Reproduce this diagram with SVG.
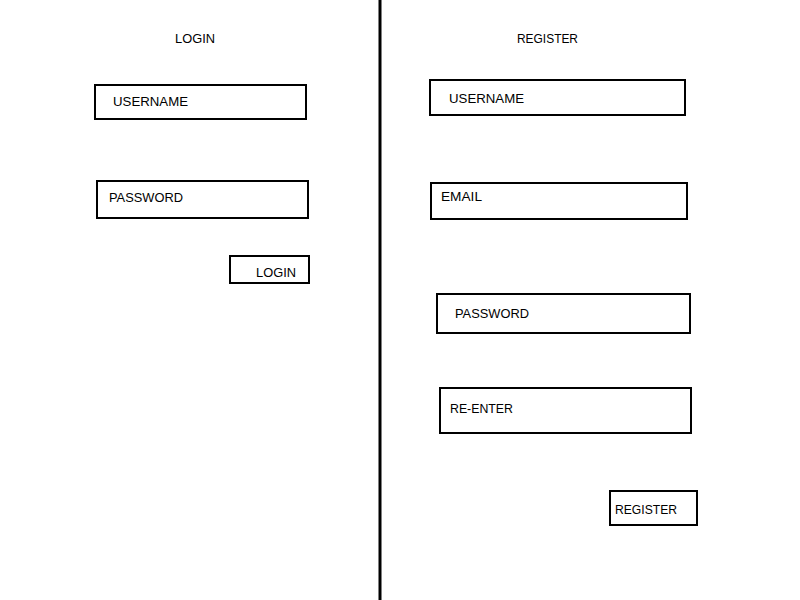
<svg xmlns="http://www.w3.org/2000/svg" width="800" height="600" viewBox="0 0 800 600">
<style>
.box{fill:#fff;stroke:#000;stroke-width:2}
text{font-family:"Liberation Sans",Arial,sans-serif;font-size:13px;fill:#000}
</style>
<rect width="800" height="600" fill="#fff"/>
<g id="connectors">
<line x1="380" y1="0" x2="380" y2="600" stroke="#000" stroke-width="3"/>
</g>
<g id="login-title"><text x="175" y="43" textLength="40" lengthAdjust="spacingAndGlyphs">LOGIN</text></g>
<g id="login-username"><rect class="box" x="95" y="85" width="211" height="34"/><text x="113" y="106" textLength="75" lengthAdjust="spacingAndGlyphs">USERNAME</text></g>
<g id="login-password"><rect class="box" x="97" y="181" width="211" height="37"/><text x="109" y="202" textLength="74" lengthAdjust="spacingAndGlyphs">PASSWORD</text></g>
<g id="login-button"><rect class="box" x="230" y="256" width="79" height="27"/><text x="256" y="277" textLength="40" lengthAdjust="spacingAndGlyphs">LOGIN</text></g>
<g id="register-title"><text x="517" y="43" textLength="61" lengthAdjust="spacingAndGlyphs">REGISTER</text></g>
<g id="reg-username"><rect class="box" x="430" y="80" width="255" height="35"/><text x="449" y="103" textLength="75" lengthAdjust="spacingAndGlyphs">USERNAME</text></g>
<g id="reg-email"><rect class="box" x="431" y="183" width="256" height="36"/><text x="441" y="201" textLength="41" lengthAdjust="spacingAndGlyphs">EMAIL</text></g>
<g id="reg-password"><rect class="box" x="437" y="294" width="253" height="39"/><text x="455" y="318" textLength="74" lengthAdjust="spacingAndGlyphs">PASSWORD</text></g>
<g id="reg-reenter"><rect class="box" x="440" y="388" width="251" height="45"/><text x="450" y="413" textLength="63" lengthAdjust="spacingAndGlyphs">RE-ENTER</text></g>
<g id="register-button"><rect class="box" x="610" y="491" width="87" height="34"/><text x="615" y="514" textLength="62" lengthAdjust="spacingAndGlyphs">REGISTER</text></g>
</svg>
